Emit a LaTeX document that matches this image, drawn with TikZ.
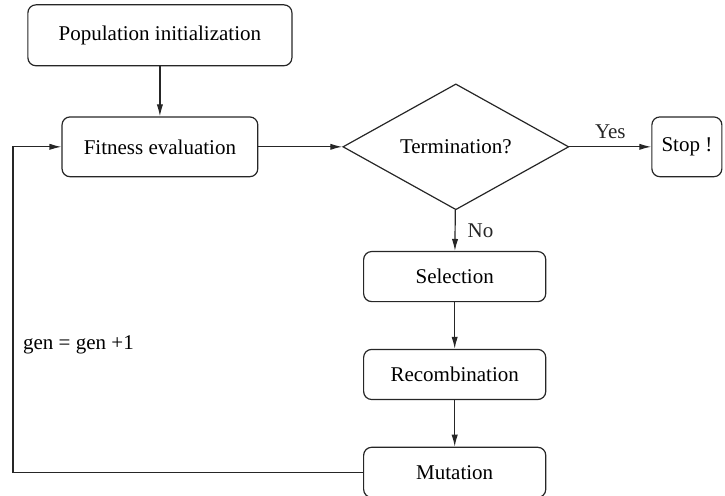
\documentclass[tikz,border=0pt]{standalone}
\usepackage{fontspec}
\setmainfont{Liberation Serif}
\usetikzlibrary{shapes.geometric, arrows.meta, positioning}

\begin{document}
\begin{tikzpicture}[
    % Process style
    stepbox/.style={
        rectangle,
        rounded corners=4pt,
        draw=black!85,
        line width=0.6pt,
        minimum height=0.88cm,
        inner sep=0pt,
        font=\fontsize{10.5}{12}\selectfont,
        align=center
    },
    % Decision style
    decisionbox/.style={
        diamond,
        draw=black!85,
        line width=0.6pt,
        minimum width=3.97cm,
        minimum height=1.9cm,
        inner sep=0pt,
        font=\fontsize{10.5}{12}\selectfont
    },
    arrow/.style={
        -{Latex[length=2.1mm, width=1.1mm]},
        line width=0.6pt,
        black!85
    },
    edgelabel/.style={
        font=\fontsize{10.5}{12}\selectfont,
        inner sep=0pt
    }
]
\useasboundingbox (0, 0) rectangle (12.74, 8.71);

% === Main column ===
\node[stepbox, minimum width=4.64cm, minimum height=1.07cm] (init) at (2.81, 8.09) {Population initialization};
\node[stepbox, minimum width=3.44cm, minimum height=1.05cm] (fitness) at (2.81, 6.13) {Fitness evaluation};
\node[decisionbox] (term) at (8.01, 6.13) {Termination?};
\node[stepbox, minimum width=1.23cm, minimum height=1.05cm] (stop) at (12.07, 6.13) {Stop !};

% === Variation loop ===
\node[stepbox, minimum width=3.2cm] (select) at (7.99, 3.85) {Selection};
\node[stepbox, minimum width=3.2cm] (recomb) at (7.99, 2.13) {Recombination};
\node[stepbox, minimum width=3.2cm] (mutate) at (7.99, 0.41) {Mutation};
\coordinate (loopdown) at (0.23, 0.41);
\coordinate (loopup) at (0.23, 6.13);

\draw[arrow] (init) -- (fitness);
\draw[arrow] (fitness) -- (term);
\draw[arrow] (term) -- node[edgelabel, above=4pt] {Yes} (stop);
\draw[arrow] (term) -- node[edgelabel, right=6pt] {No} (select);
\draw[arrow] (select) -- (recomb);
\draw[arrow] (recomb) -- (mutate);
\draw[arrow] (mutate) -- (loopdown) -- (loopup) -- (fitness);

\node[edgelabel, anchor=west] (gen) at (0.4, 2.65) {gen = gen +1};

\end{tikzpicture}
\end{document}
